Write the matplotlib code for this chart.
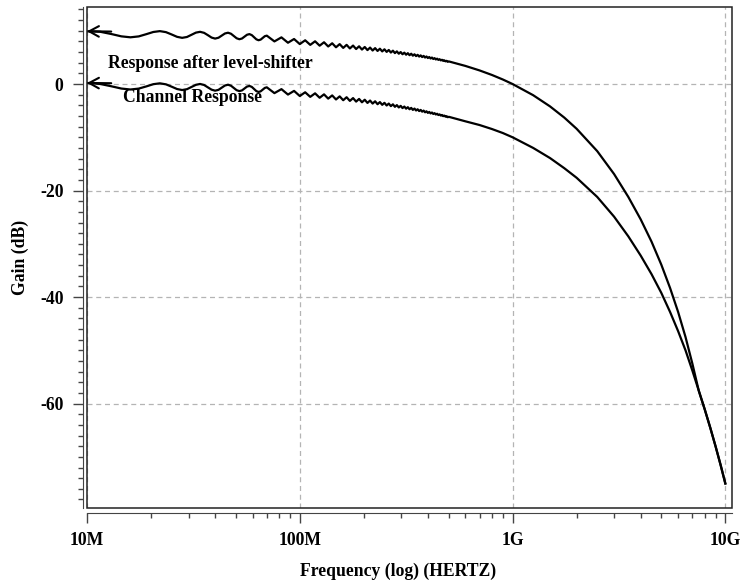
# %% Importing necessary libraries
import matplotlib
matplotlib.use('Agg')
import matplotlib.pyplot as plt
from matplotlib.patches import Rectangle
from matplotlib.ticker import FixedLocator, MultipleLocator, LogLocator, NullFormatter
import numpy as np

plt.rcParams['font.family'] = ['Liberation Serif', 'DejaVu Serif']
plt.rcParams['font.weight'] = 'bold'
plt.rcParams['font.size'] = 12.7
plt.rcParams['axes.unicode_minus'] = False

# %% Data
# ripple region, frequency in MHz (same points for both curves)
ripple_freq = [10, 11.5, 13, 14.5, 16, 17.5, 19, 20.5, 22, 23.5, 25, 26.5, 28, 29.5,
               31, 32.5, 34, 35.5, 37, 38.5, 40, 41.5, 43, 44.5, 46, 47.5, 49, 50.5,
               52, 53.5, 55, 56.5, 58, 59.5, 61, 62.5, 64, 65.5, 67, 68.5, 70,
               76, 82, 88, 94, 100, 106, 112, 118, 124, 130, 136, 142, 148, 154,
               160, 166, 172, 178, 184, 190, 196, 202, 208, 214, 220, 226, 232, 238,
               244, 250, 256, 262, 268, 274, 280, 286, 292, 298, 304, 310, 316, 322,
               328, 334, 340, 346, 352, 358, 364, 370, 376, 382, 388, 394, 400, 406,
               412, 418, 424, 430, 436, 442, 448, 454, 460, 466, 472, 478, 484, 490,
               496, 502, 550, 600]
ripple_shifted = [9.9, 9.82, 9.39, 8.95, 8.77, 8.94, 9.36, 9.77, 9.93, 9.74, 9.3, 8.86, 8.67, 8.83,
                  9.24, 9.65, 9.8, 9.61, 9.17, 8.72, 8.53, 8.69, 9.09, 9.49, 9.63, 9.44, 9.01, 8.59,
                  8.41, 8.54, 8.9, 9.25, 9.37, 9.18, 8.78, 8.39, 8.22, 8.34, 8.66, 8.98, 9.08,
                  8.0, 8.76, 7.75, 8.45, 7.5, 8.21, 7.35, 8.02, 7.2, 7.84, 7.05, 7.65, 6.9, 7.49,
                  6.78, 7.35, 6.68, 7.22, 6.57, 7.08, 6.47, 6.95, 6.37, 6.84, 6.29, 6.74, 6.21, 6.63,
                  6.12, 6.52, 6.03, 6.39, 5.91, 6.26, 5.8, 6.13, 5.69, 6.0, 5.59, 5.89, 5.5, 5.79,
                  5.41, 5.69, 5.32, 5.58, 5.24, 5.48, 5.15, 5.38, 5.06, 5.28, 4.97, 5.17, 4.88, 5.07,
                  4.79, 4.97, 4.7, 4.86, 4.61, 4.76, 4.53, 4.66, 4.44, 4.55, 4.35, 4.45, 4.26, 4.35,
                  4.17, 4.24, 3.8, 3.4]
ripple_channel = [0.2, 0.02, -0.42, -0.85, -1.03, -0.86, -0.45, -0.03, 0.13, -0.06, -0.5, -0.94, -1.13, -0.97,
                  -0.56, -0.15, 0.01, -0.18, -0.62, -1.06, -1.25, -1.09, -0.68, -0.28, -0.13, -0.32, -0.74, -1.16,
                  -1.33, -1.2, -0.84, -0.48, -0.36, -0.54, -0.94, -1.33, -1.49, -1.37, -1.05, -0.73, -0.62,
                  -1.71, -0.96, -1.98, -1.29, -2.25, -1.55, -2.41, -1.75, -2.58, -1.94, -2.74, -2.14, -2.9, -2.32,
                  -3.04, -2.48, -3.17, -2.64, -3.3, -2.8, -3.43, -2.95, -3.55, -3.1, -3.67, -3.24, -3.79, -3.39,
                  -3.91, -3.53, -4.03, -3.67, -4.15, -3.81, -4.28, -3.96, -4.4, -4.1, -4.52, -4.23, -4.63, -4.35,
                  -4.74, -4.48, -4.86, -4.61, -4.97, -4.74, -5.08, -4.86, -5.19, -4.99, -5.31, -5.12, -5.42, -5.24,
                  -5.52, -5.35, -5.62, -5.47, -5.72, -5.58, -5.82, -5.7, -5.92, -5.81, -6.03, -5.93, -6.13, -6.04,
                  -6.23, -6.16, -6.6, -7.0]

# roll-off region, frequency in GHz
roll_freq = [0.7, 0.8, 0.9, 1.0, 1.25, 1.5, 1.75, 2.0, 2.5, 3.0, 3.5, 4.0,
             4.5, 5.0, 5.5, 6.0, 6.5, 7.0, 7.5, 8.0, 8.5, 9.0, 9.5, 10.0]
roll_shifted = [2.55, 1.7, 0.85, 0.0, -2.1, -4.2, -6.3, -8.4, -12.6, -16.9, -21.2, -25.4,
                -29.6, -33.9, -38.3, -42.8, -47.5, -52.5, -57.57, -61.07, -64.56, -68.04,
                -71.51, -75.0]
roll_channel = [-7.7, -8.45, -9.2, -10.0, -12.0, -13.9, -15.8, -17.6, -21.2, -24.9, -28.6, -32.2,
                -35.7, -39.2, -42.8, -46.4, -50.0, -53.8, -57.57, -61.07, -64.56, -68.04,
                -71.51, -75.0]

x_ticks = [1e7, 1e8, 1e9, 1e10]
x_tick_labels = ['10M', '100M', '1G', '10G']
y_ticks = [0, -20, -40, -60]

freq = np.concatenate([np.array(ripple_freq) * 1e6, np.array(roll_freq) * 1e9])
gain_shifted = np.concatenate([ripple_shifted, roll_shifted])
gain_channel = np.concatenate([ripple_channel, roll_channel])

# %% Creating the plot
fig = plt.figure(figsize=(7.48, 5.80), dpi=100)
ax = fig.add_axes([87 / 748, 1 - 508 / 580, 644.5 / 748, 501 / 580])

ax.plot(freq, gain_shifted, color='black', linewidth=1.6)
ax.plot(freq, gain_channel, color='black', linewidth=1.6)

# open arrow heads at the left end of both curves
for g in [gain_shifted, gain_channel]:
    ax.annotate('', xy=(freq[0], g[0]), xytext=(freq[2], g[0] - 0.05),
                arrowprops=dict(arrowstyle='->,head_length=0.55,head_width=0.3',
                                color='black', lw=1.5, shrinkA=0, shrinkB=0))

ax.text(12.5e6, 2.95, 'Response after level-shifter', fontweight='bold', ha='left', va='baseline')
ax.text(14.8e6, -3.3, 'Channel Response', fontweight='bold', ha='left', va='baseline')

ax.set_xscale('log')
ax.set_xlim(1e7, 10 ** 10.029)
ax.set_ylim(-79.6, 14.46)

ax.xaxis.set_major_locator(FixedLocator(x_ticks))
ax.set_xticklabels(x_tick_labels)
ax.xaxis.set_minor_locator(LogLocator(base=10, subs=np.arange(2, 10)))
ax.xaxis.set_minor_formatter(NullFormatter())
ax.yaxis.set_major_locator(FixedLocator(y_ticks))
ax.yaxis.set_minor_locator(MultipleLocator(2))

ax.grid(which='major', color='#b4b4b4', linestyle=(0, (4, 3)), linewidth=0.9)

# detached axis lines plus a closed frame around the plot area
for side in ['top', 'right']:
    ax.spines[side].set_visible(False)
ax.spines['left'].set_position(('outward', 3))
ax.spines['bottom'].set_position(('outward', 3.6))
ax.spines['left'].set_color('#444444')
ax.spines['bottom'].set_color('#444444')
ax.add_patch(Rectangle((0, 0), 1, 1, transform=ax.transAxes, fill=False,
                       edgecolor='#222222', linewidth=1.1, clip_on=False, zorder=5))

ax.tick_params(axis='both', which='major', length=7.5, width=1, color='#444444', labelsize=12.7)
ax.tick_params(axis='both', which='minor', length=3.5, width=1, color='#444444')
ax.tick_params(axis='x', which='major', pad=6)
ax.tick_params(axis='y', which='major', pad=6.5)

ax.set_xlabel('Frequency (log) (HERTZ)', fontweight='bold')
ax.xaxis.set_label_coords(0.4833, -0.1098)
ax.xaxis.label.set_va('top')
ax.set_ylabel('Gain (dB)', fontweight='bold')
ax.yaxis.set_label_coords(-0.0897, 0.5)

fig.savefig('out.png', dpi=100)
